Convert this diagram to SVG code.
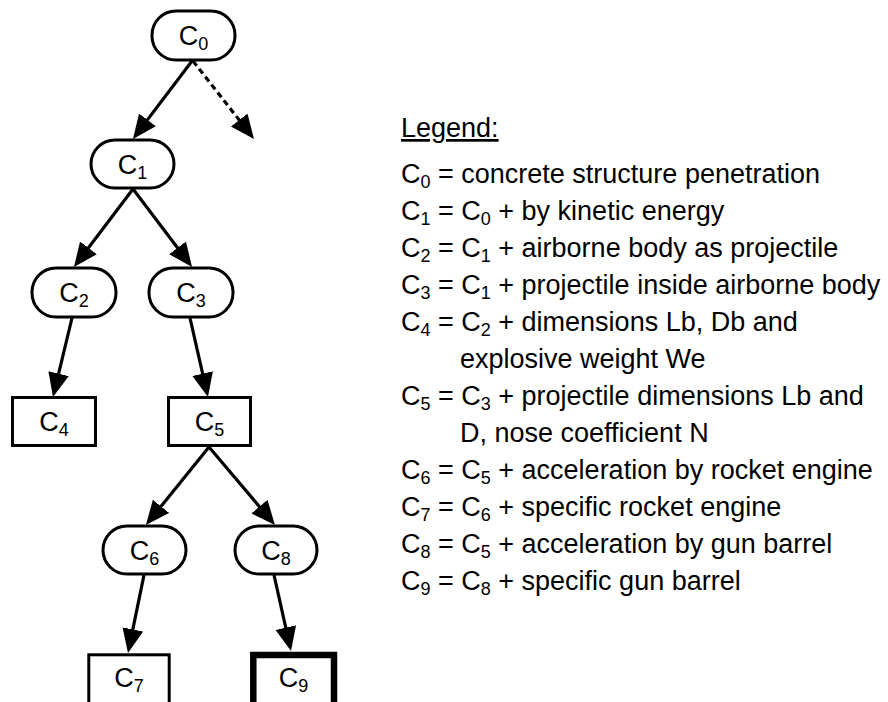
<svg xmlns="http://www.w3.org/2000/svg" width="888" height="702" viewBox="0 0 888 702">
<style>
text{font-family:"Liberation Sans",Arial,Helvetica,sans-serif;font-size:27px;fill:#000}
.s{font-size:18px}
.n text{text-anchor:middle}
.r{fill:#fff;stroke:#000;stroke-width:3}
.thick{stroke-width:6.5}
.c line{stroke:#000;stroke-width:3.2;marker-end:url(#ah)}
.c .d{stroke-dasharray:6 4}
</style>
<defs>
<marker id="ah" markerUnits="userSpaceOnUse" markerWidth="26" markerHeight="22" refX="12" refY="10.5" orient="auto" viewBox="0 0 26 22">
<path d="M0,0 L24,10.5 L0,21 z" fill="#000"/>
</marker>
</defs>
<rect width="888" height="702" fill="#fff"/>
<g class="c" id="connectors">
<line x1="192" y1="61" x2="140.2" y2="129.4"/>
<line class="d" x1="193" y1="61" x2="246.6" y2="129.5"/>
<line x1="133" y1="189" x2="81.2" y2="257.4"/>
<line x1="133" y1="189" x2="184.8" y2="257.4"/>
<line x1="72" y1="318" x2="55.8" y2="385.3"/>
<line x1="190" y1="318" x2="205.3" y2="385.3"/>
<line x1="209" y1="447" x2="153.5" y2="515.7"/>
<line x1="209" y1="447" x2="267.2" y2="515.8"/>
<line x1="144" y1="575" x2="130.4" y2="641.2"/>
<line x1="274" y1="575" x2="288.4" y2="639.3"/>
</g>
<g class="n" id="C0"><rect class="r" x="152" y="11" width="83" height="49" rx="24"/><text x="193.5" y="45">C<tspan class="s" dy="5">0</tspan></text></g>
<g class="n" id="C1"><rect class="r" x="91" y="140" width="83" height="48" rx="24"/><text x="132.5" y="173.5">C<tspan class="s" dy="5">1</tspan></text></g>
<g class="n" id="C2"><rect class="r" x="32" y="268" width="84" height="49" rx="24"/><text x="74" y="302">C<tspan class="s" dy="5">2</tspan></text></g>
<g class="n" id="C3"><rect class="r" x="149" y="268" width="84" height="49" rx="24"/><text x="191" y="302">C<tspan class="s" dy="5">3</tspan></text></g>
<g class="n" id="C4"><rect class="r" x="12.5" y="397.5" width="83" height="48"/><text x="54" y="431">C<tspan class="s" dy="5">4</tspan></text></g>
<g class="n" id="C5"><rect class="r" x="168.5" y="397.5" width="82" height="48"/><text x="209.5" y="431">C<tspan class="s" dy="5">5</tspan></text></g>
<g class="n" id="C6"><rect class="r" x="103" y="526" width="83" height="48" rx="24"/><text x="144.5" y="559.5">C<tspan class="s" dy="5">6</tspan></text></g>
<g class="n" id="C8"><rect class="r" x="235" y="526" width="82" height="48" rx="24"/><text x="276" y="559.5">C<tspan class="s" dy="5">8</tspan></text></g>
<g class="n" id="C7"><rect class="r" x="88.8" y="654.8" width="80.4" height="52"/><text x="129" y="687">C<tspan class="s" dy="5">7</tspan></text></g>
<g class="n" id="C9"><rect class="r thick" x="253.3" y="655" width="80.7" height="52"/><text x="293.6" y="687">C<tspan class="s" dy="5">9</tspan></text></g>
<g id="legend">
<text x="401" y="137" text-decoration="underline">Legend:</text>
<text x="401" y="183">C<tspan class="s" dy="5">0</tspan><tspan dy="-5"> = concrete structure penetration</tspan></text>
<text x="401" y="220">C<tspan class="s" dy="5">1</tspan><tspan dy="-5"> = C</tspan><tspan class="s" dy="5">0</tspan><tspan dy="-5"> + by kinetic energy</tspan></text>
<text x="401" y="257">C<tspan class="s" dy="5">2</tspan><tspan dy="-5"> = C</tspan><tspan class="s" dy="5">1</tspan><tspan dy="-5"> + airborne body as projectile</tspan></text>
<text x="401" y="294">C<tspan class="s" dy="5">3</tspan><tspan dy="-5"> = C</tspan><tspan class="s" dy="5">1</tspan><tspan dy="-5"> + projectile inside airborne body</tspan></text>
<text x="401" y="331">C<tspan class="s" dy="5">4</tspan><tspan dy="-5"> = C</tspan><tspan class="s" dy="5">2</tspan><tspan dy="-5"> + dimensions Lb, Db and</tspan></text>
<text x="460" y="368">explosive weight We</text>
<text x="401" y="405">C<tspan class="s" dy="5">5</tspan><tspan dy="-5"> = C</tspan><tspan class="s" dy="5">3</tspan><tspan dy="-5"> + projectile dimensions Lb and</tspan></text>
<text x="460" y="442">D, nose coefficient N</text>
<text x="401" y="479">C<tspan class="s" dy="5">6</tspan><tspan dy="-5"> = C</tspan><tspan class="s" dy="5">5</tspan><tspan dy="-5"> + acceleration by rocket engine</tspan></text>
<text x="401" y="516">C<tspan class="s" dy="5">7</tspan><tspan dy="-5"> = C</tspan><tspan class="s" dy="5">6</tspan><tspan dy="-5"> + specific rocket engine</tspan></text>
<text x="401" y="553">C<tspan class="s" dy="5">8</tspan><tspan dy="-5"> = C</tspan><tspan class="s" dy="5">5</tspan><tspan dy="-5"> + acceleration by gun barrel</tspan></text>
<text x="401" y="590">C<tspan class="s" dy="5">9</tspan><tspan dy="-5"> = C</tspan><tspan class="s" dy="5">8</tspan><tspan dy="-5"> + specific gun barrel</tspan></text>
</g>
</svg>
